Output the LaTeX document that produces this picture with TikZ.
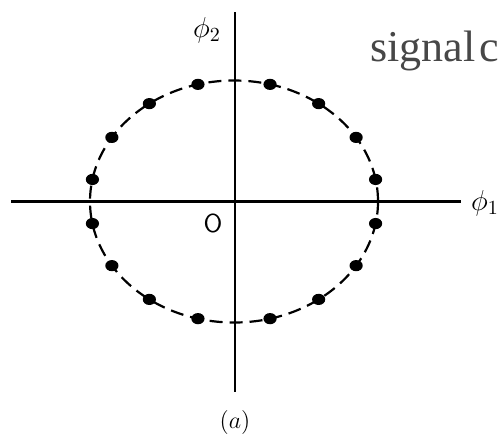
\documentclass[tikz,border=0pt]{standalone}
\usepackage{amsmath}
\usepackage{fontspec}
\newfontfamily\timesfont{Liberation Serif}
\usepackage{tikz}

\begin{document}
\begin{tikzpicture}[x=0.5pt,y=-0.5pt]
      \useasboundingbox (0,0) rectangle (501,441);
      \fill[white] (0,0) rectangle (501,441);
      \draw[line width=1.1pt] (11,201.5) -- (461,201.5);
      \draw[line width=1.1pt] (235,12) -- (235,392);
      \draw[line width=1.1pt,dash pattern=on 6.5pt off 3.5pt] (234,201.5) ellipse (144 and 121);
      \foreach \a in {10.5,32,54,75.5,104.5,126,148,169.5,190.5,212,234,255.5,284.5,306,328,349.5}
        \fill[black,shift={(234,201.5)}] (\a:144 and 121) ellipse (6.6 and 5.6);
      \node (phitwo) at (207,30) {\fontsize{14}{16}\selectfont$\phi_2$};
      \node (phione) at (485,203) {\fontsize{14}{16}\selectfont$\phi_1$};
      \node (origin) at (213,223) {\fontsize{13}{15}\selectfont\sffamily O};
      \node (caption) at (235,422) {\fontsize{13}{15}\selectfont$(a)$};
      \node[anchor=base west,inner sep=0pt,text=black!72] (signal) at (370,61) {\fontsize{22}{24}\selectfont\timesfont signal\hspace{0.1em}c};
    \end{tikzpicture}
\end{document}
